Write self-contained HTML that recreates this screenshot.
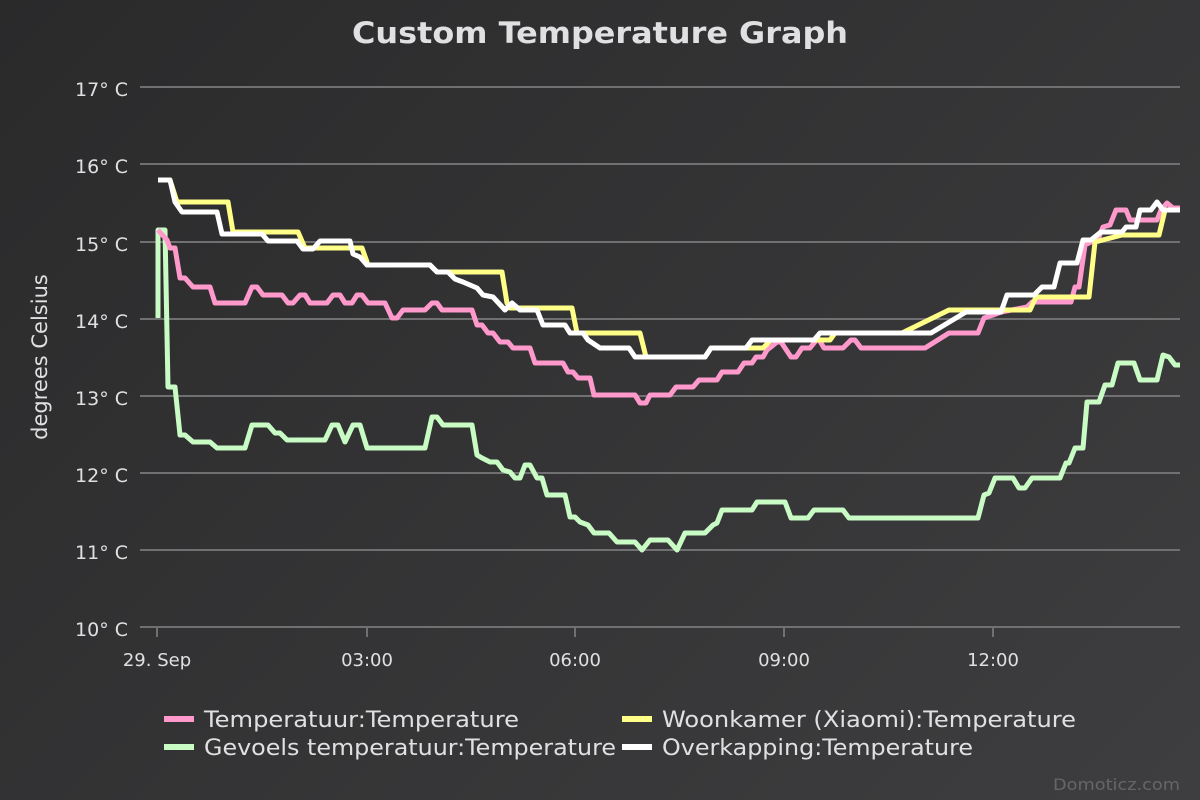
<!DOCTYPE html>
<html><head><meta charset="utf-8"><style>
html,body{margin:0;padding:0;width:1200px;height:800px;overflow:hidden}
body{background:linear-gradient(135deg,#2a2a2b 0%,#3e3e40 100%)}
svg{display:block}
text{font-family:"DejaVu Sans","Liberation Sans",sans-serif;fill:#e0e0e3}
</style></head><body>
<svg width="1200" height="800" viewBox="0 0 1200 800">
<text x="600" y="43" text-anchor="middle" font-size="29" font-weight="bold" textLength="496" lengthAdjust="spacingAndGlyphs">Custom Temperature Graph</text>
<g stroke="#707073" stroke-width="2">
<line x1="140" y1="87" x2="1180" y2="87"/><line x1="140" y1="164" x2="1180" y2="164"/>
<line x1="140" y1="242" x2="1180" y2="242"/><line x1="140" y1="319" x2="1180" y2="319"/>
<line x1="140" y1="396" x2="1180" y2="396"/><line x1="140" y1="473" x2="1180" y2="473"/>
<line x1="140" y1="550" x2="1180" y2="550"/><line x1="140" y1="627" x2="1180" y2="627"/>
<line x1="157" y1="627" x2="157" y2="637"/><line x1="367" y1="627" x2="367" y2="637"/>
<line x1="575" y1="627" x2="575" y2="637"/><line x1="784" y1="627" x2="784" y2="637"/>
<line x1="993" y1="627" x2="993" y2="637"/>
</g>
<g font-size="19" text-anchor="end">
<text x="128" y="96">17° C</text><text x="128" y="173">16° C</text><text x="128" y="251">15° C</text>
<text x="128" y="328">14° C</text><text x="128" y="405">13° C</text><text x="128" y="482">12° C</text>
<text x="128" y="559">11° C</text><text x="128" y="636">10° C</text>
</g>
<g font-size="18" text-anchor="middle">
<text x="157" y="666">29. Sep</text><text x="367" y="666">03:00</text><text x="575" y="666">06:00</text>
<text x="784" y="666">09:00</text><text x="993" y="666">12:00</text>
</g>
<text transform="translate(47,357) rotate(-90)" font-size="21" text-anchor="middle">degrees Celsius</text>
<g fill="none" stroke-width="5" stroke-linejoin="round">
<polyline stroke="#c9fcc5" points="158,318 158,230 165,230 168,387 175,387 180,435 185,435 193,442 210,442 217,448 245,448 252,425 268,425 275,433 280,433 287,440 325,440 332,425 338,425 345,442 353,425 360,425 367,448 425,448 432,417 437,417 443,425 472,425 477,455 482,458 490,462 497,462 503,470 510,472 515,478 520,478 525,465 530,465 537,478 542,478 547,495 565,495 570,517 575,517 580,522 588,525 594,533 609,533 617,542 635,542 642,550 650,540 668,540 677,550 685,533 705,533 713,525 717,523 722,510 752,510 757,502 785,502 791,518 808,518 814,510 843,510 849,518 978,518 984,495 989,493 995,478 1013,478 1019,488 1025,488 1032,478 1060,478 1066,463 1069,463 1075,448 1083,448 1087,402 1099,402 1105,385 1112,385 1118,363 1134,363 1140,380 1157,380 1163,355 1169,357 1175,365 1180,365"/>
<polyline stroke="#ff99cc" points="158,230 167,240 170,248 175,248 180,278 185,278 193,287 210,287 215,303 245,303 252,287 257,287 263,295 282,295 288,303 293,303 300,295 305,295 310,303 327,303 333,295 340,295 345,303 352,303 357,295 362,295 368,303 385,303 392,318 397,318 403,310 425,310 432,303 437,303 442,310 472,310 477,325 482,325 488,333 493,333 500,342 508,342 513,348 530,348 535,363 563,363 568,372 573,372 578,378 590,378 594,395 635,395 640,403 646,403 650,395 670,395 676,387 693,387 699,380 717,380 722,372 738,372 744,363 752,363 756,357 763,357 767,350 771,347 777,342 781,342 791,357 796,357 802,348 810,348 818,338 824,348 843,348 851,340 855,340 861,348 925,348 949,333 978,333 984,318 993,315 1001,312 1027,307 1032,302 1071,302 1075,287 1079,287 1085,245 1091,242 1099,237 1103,227 1110,225 1116,210 1126,210 1130,220 1157,220 1161,210 1167,203 1173,208 1180,208"/>
<polyline stroke="#ffff88" points="158,180 170,180 177,202 228,202 233,232 298,232 305,248 362,248 367,262 367,265 430,265 437,272 502,272 507,303 510,308 572,308 577,333 640,333 646,357 705,357 711,348 763,348 771,340 830,340 835,333 902,333 949,310 1030,310 1036,297 1089,297 1095,242 1122,235 1159,235 1165,210 1180,210"/>
<polyline stroke="#ffffff" points="158,180 170,180 175,202 182,212 217,212 222,234 262,234 268,241 297,241 303,249 313,249 320,241 350,241 353,254 360,257 367,265 430,265 437,272 448,272 455,279 463,282 477,288 483,295 493,297 505,310 512,303 520,310 537,310 543,325 565,325 570,333 583,333 588,340 600,348 629,348 635,357 705,357 711,348 746,348 752,340 814,340 820,333 931,333 966,312 1001,312 1007,295 1034,295 1042,287 1054,287 1060,263 1077,263 1083,240 1091,240 1101,232 1122,232 1126,227 1136,227 1140,210 1151,210 1157,202 1163,210 1180,210"/>
</g>
<g font-size="22">
<rect x="164" y="716" width="30" height="6" fill="#ff99cc"/><text x="204" y="727" textLength="315" lengthAdjust="spacingAndGlyphs">Temperatuur:Temperature</text>
<rect x="622" y="716" width="30" height="6" fill="#ffff88"/><text x="662" y="727" textLength="414" lengthAdjust="spacingAndGlyphs">Woonkamer (Xiaomi):Temperature</text>
<rect x="164" y="744" width="30" height="6" fill="#c9fcc5"/><text x="204" y="755" textLength="412" lengthAdjust="spacingAndGlyphs">Gevoels temperatuur:Temperature</text>
<rect x="622" y="744" width="30" height="6" fill="#ffffff"/><text x="662" y="755" textLength="311" lengthAdjust="spacingAndGlyphs">Overkapping:Temperature</text>
</g>
<text x="1180" y="790" font-size="16" text-anchor="end" style="fill:#666" textLength="127" lengthAdjust="spacingAndGlyphs">Domoticz.com</text>
</svg>
</body></html>
